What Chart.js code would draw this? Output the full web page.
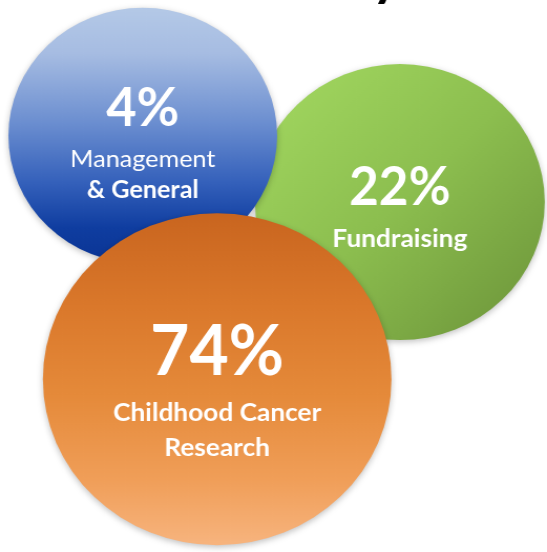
<!DOCTYPE html>
<html><head><meta charset="utf-8">
<script src="https://cdn.jsdelivr.net/npm/chart.js@4.4.0/dist/chart.umd.min.js"></script>
<style>
html,body{margin:0;padding:0;background:#fff;overflow:hidden}
#c{display:block}
</style></head><body>
<canvas id="c" width="521" height="552" style="width:547px;height:552px"></canvas>
<script>
// Data (drawing order: green, blue, orange on top)
const categories = ['Fundraising', 'Management & General', 'Childhood Cancer Research'];
const labelLines = [['Fundraising'], ['Management', '& General'], ['Childhood Cancer', 'Research']];
const percentages = [22, 4, 74];
const bubbleX = [73.1, 26.1, 39.7];
const bubbleY = [63.4, 75.4, 31.3];
const bubbleR = [138, 128, 166];
const titleFragment = 'y';

const fallback = ['#8BBE4E', '#3F68BE', '#E3883A'];

function fillFor(ctx) {
  if (ctx.type !== 'data') return '#888';
  const i = ctx.dataIndex;
  const ch = ctx.chart, sx = ch.scales.x, sy = ch.scales.y;
  if (!sx || !sy) return fallback[i];
  const raw = ctx.raw;
  const x = sx.getPixelForValue(raw.x), y = sy.getPixelForValue(raw.y), r = raw.r;
  if (!isFinite(x) || !isFinite(y) || !isFinite(r)) return fallback[i];
  const c = ch.ctx;
  let g;
  if (i === 0) {
    g = c.createLinearGradient(x - r * 0.75, y - r * 0.75, x + r * 0.75, y + r * 0.75);
    g.addColorStop(0, '#9ED35D');
    g.addColorStop(0.5, '#8CBE4F');
    g.addColorStop(1, '#739D3E');
  } else if (i === 1) {
    g = c.createLinearGradient(0, y - r, 0, y + r);
    g.addColorStop(0, '#B4C9E7');
    g.addColorStop(0.18, '#A6BCE2');
    g.addColorStop(0.45, '#6B8ED0');
    g.addColorStop(0.68, '#3561BB');
    g.addColorStop(0.86, '#0F3DA0');
    g.addColorStop(1, '#0A3494');
  } else {
    g = c.createLinearGradient(0, y - r, 0, y + r);
    g.addColorStop(0, '#C9651F');
    g.addColorStop(0.28, '#DA782B');
    g.addColorStop(0.55, '#E58A3A');
    g.addColorStop(0.8, '#F09E58');
    g.addColorStop(1, '#F7B47E');
  }
  return g;
}

const shadowPlugin = {
  id: 'bubbleShadow',
  beforeDatasetDraw(chart) {
    const c = chart.ctx;
    c.save();
    c.shadowColor = 'rgba(0,0,0,0.25)';
    c.shadowBlur = 6;
    c.shadowOffsetY = 2;
  },
  afterDatasetDraw(chart) { chart.ctx.restore(); }
};

const FONT = 'Lato, "Open Sans", sans-serif';
const textStyle = [
  { num: { size: 53, dy: 3, sq: 0.92 }, lines: [{ size: 25, bold: true, dy: 45, sq: 1.0 }] },
  { num: { size: 54, dy: -10, sq: 0.92 }, lines: [{ size: 24, bold: false, dy: 31, sq: 1.0 }, { size: 24, bold: true, dy: 62, sq: 1.0 }] },
  { num: { size: 70, dy: -4, sq: 0.92 }, lines: [{ size: 25, bold: true, dy: 42, sq: 1.0 }, { size: 25, bold: true, dy: 77, sq: 1.0 }] }
];

function drawText(c, txt, x, y, font, sq) {
  c.save();
  c.translate(x, y);
  c.scale(sq, 1);
  c.font = font;
  c.fillText(txt, 0, 0);
  c.restore();
}

const labelPlugin = {
  id: 'bubbleLabels',
  afterDatasetsDraw(chart) {
    const c = chart.ctx;
    const meta = chart.getDatasetMeta(0);
    c.save();
    c.fillStyle = '#FFFFFF';
    c.textAlign = 'center';
    c.textBaseline = 'alphabetic';
    meta.data.forEach((el, i) => {
      const st = textStyle[i];
      drawText(c, percentages[i] + '%', el.x, el.y + st.num.dy, 'bold ' + st.num.size + 'px ' + FONT, st.num.sq);
      labelLines[i].forEach((ln, k) => {
        const ls = st.lines[k];
        drawText(c, ln, el.x, el.y + ls.dy, (ls.bold ? 'bold ' : '') + ls.size + 'px ' + FONT, ls.sq);
      });
    });
    // cut-off title fragment at the very top
    c.fillStyle = '#000';
    c.textAlign = 'left';
    c.font = 'bold 52px ' + FONT;
    c.fillText(titleFragment, 354, -5);
    c.restore();
  }
};

new Chart(document.getElementById('c'), {
  type: 'bubble',
  data: {
    labels: categories,
    datasets: [{
      label: 'Expenses',
      data: categories.map((_, i) => ({ x: bubbleX[i], y: bubbleY[i], r: bubbleR[i] })),
      backgroundColor: fillFor,
      borderWidth: 0,
      hoverBorderWidth: 0,
      clip: false
    }]
  },
  options: {
    responsive: false,
    animation: false,
    events: [],
    layout: { autoPadding: false, padding: 0 },
    scales: {
      x: { display: false, min: 0, max: 100 },
      y: { display: false, min: 0, max: 100 }
    },
    plugins: { legend: { display: false }, tooltip: { enabled: false }, title: { display: false } }
  },
  plugins: [shadowPlugin, labelPlugin]
});
</script>
</body></html>
